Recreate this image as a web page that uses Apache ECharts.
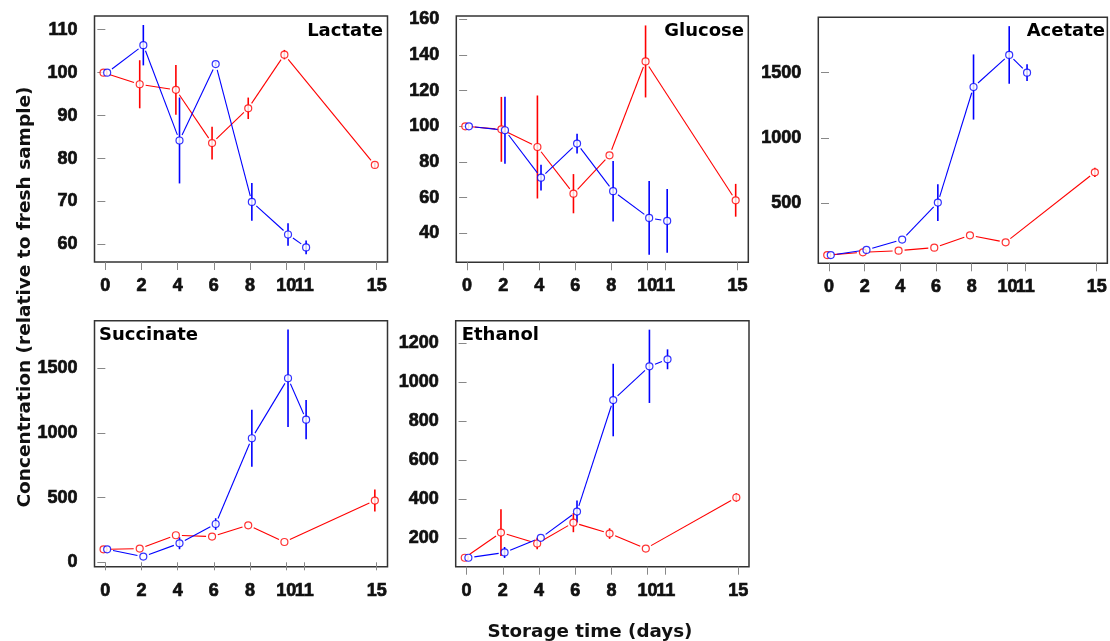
<!DOCTYPE html>
<html>
<head>
<meta charset="utf-8">
<script src="https://cdn.jsdelivr.net/npm/echarts@6/dist/echarts.min.js"></script>
<style>
html,body{margin:0;padding:0;background:#fff;}
#chart{width:1110px;height:641px;}
</style>
</head>
<body>
<div id="chart"></div>
<script>
// ---------- data ----------
const redDays  = [0, 2, 4, 6, 8, 10, 15];
const blueDays = [0, 2, 4, 6, 8, 10, 11];
const xTickValues = [0, 2, 4, 6, 8, 10, 11, 15];

const lactateRed     = [100, 97.3, 96.0, 83.6, 91.7, 104.2, 78.5];
const lactateRedErr  = [0, 5.6, 5.8, 3.8, 2.5, 1.1, 0.6];
const lactateBlue    = [100, 106.4, 84.2, 102.0, 69.9, 62.3, 59.3];
const lactateBlueErr = [0, 4.7, 10.0, 0.5, 4.4, 2.6, 1.6];
const lactateTicks   = [60, 70, 80, 90, 100, 110];

const glucoseRed     = [100, 98.3, 88.4, 62.2, 83.7, 136.4, 58.5];
const glucoseRedErr  = [0, 18.2, 28.9, 11.0, 0.5, 20.2, 9.2];
const glucoseBlue    = [100, 97.8, 71.2, 90.3, 63.6, 48.6, 46.9];
const glucoseBlueErr = [0, 18.8, 7.2, 5.6, 17.0, 20.7, 17.9];
const glucoseTicks   = [40, 60, 80, 100, 120, 140, 160];

const acetateRed     = [100, 121, 134, 157, 252, 198, 735];
const acetateRedErr  = [0, 0, 0, 0, 0, 0, 35];
const acetateBlue    = [100, 140, 219, 503, 1390, 1636, 1500];
const acetateBlueErr = [0, 0, 0, 141, 250, 221, 64];
const acetateTicks   = [500, 1000, 1500];

const succinateRed     = [100, 106, 209, 199, 286, 157, 477];
const succinateRedErr  = [0, 0, 0, 0, 0, 0, 85];
const succinateBlue    = [100, 44, 147, 296, 959, 1423, 1103];
const succinateBlueErr = [0, 0, 46, 45, 220, 376, 152];
const succinateTicks   = [0, 500, 1000, 1500];

const ethanolRed     = [100, 229, 173, 280, 224, 147, 409];
const ethanolRedErr  = [0, 120, 30, 49, 27, 0, 22];
const ethanolBlue    = [100, 127, 202, 337, 909, 1082, 1118];
const ethanolBlueErr = [0, 28, 0, 56, 186, 188, 51];
const ethanolTicks   = [200, 400, 600, 800, 1000, 1200];

const yLabel = 'Concentration (relative to fresh sample)';
const xLabel = 'Storage time (days)';

// ---------- layout ----------
const RED = '#ff0000', BLUE = '#0000ff';
const OFFSET = 0.1;
const panels = [
  {name:'Lactate',   red:lactateRed,   redErr:lactateRedErr,   blue:lactateBlue,   blueErr:lactateBlueErr,   ticks:lactateTicks,   yMin:55.9, yMax:113.2,
   grid:{left:94.5, top:16, width:293, height:246}, title:{x:383, y:31, align:'right'}},
  {name:'Glucose',   red:glucoseRed,   redErr:glucoseRedErr,   blue:glucoseBlue,   blueErr:glucoseBlueErr,   ticks:glucoseTicks,   yMin:23.7, yMax:161.9,
   grid:{left:456.3, top:16, width:292, height:246.3}, title:{x:744, y:31, align:'right'}},
  {name:'Acetate',   red:acetateRed,   redErr:acetateRedErr,   blue:acetateBlue,   blueErr:acetateBlueErr,   ticks:acetateTicks,   yMin:37, yMax:1925,
   grid:{left:818.3, top:17.3, width:293, height:246}, title:{x:1105, y:31, align:'right'}},
  {name:'Succinate', red:succinateRed, redErr:succinateRedErr, blue:succinateBlue, blueErr:succinateBlueErr, ticks:succinateTicks, yMin:-34, yMax:1868,
   grid:{left:94.5, top:320.7, width:293, height:246}, title:{x:99, y:335, align:'left'}},
  {name:'Ethanol',   red:ethanolRed,   redErr:ethanolRedErr,   blue:ethanolBlue,   blueErr:ethanolBlueErr,   ticks:ethanolTicks,   yMin:54, yMax:1316,
   grid:{left:455.7, top:320.7, width:293.3, height:246}, title:{x:461.7, y:335, align:'left'}}
];

const LABEL_STYLE = {fontFamily:'Liberation Sans', fontWeight:'bold', fontSize:18, color:'#111',
  textBorderColor:'#111', textBorderWidth:0.7};

function segRender(color){
  return function(params, api){
    const p1 = api.coord([api.value(0), api.value(1)]);
    const p2 = api.coord([api.value(2), api.value(3)]);
    const dx = p2[0]-p1[0], dy = p2[1]-p1[1];
    const L = Math.hypot(dx, dy), g = 6;
    if (L <= 2*g) return null;
    const ux = dx/L, uy = dy/L;
    return {type:'line', shape:{x1:p1[0]+ux*g, y1:p1[1]+uy*g, x2:p2[0]-ux*g, y2:p2[1]-uy*g},
            style:{stroke:color, lineWidth:1.1}};
  };
}
function errRender(color){
  return function(params, api){
    const p1 = api.coord([api.value(0), api.value(1)]);
    const p2 = api.coord([api.value(0), api.value(2)]);
    return {type:'line', shape:{x1:p1[0], y1:p1[1], x2:p2[0], y2:p2[1]},
            style:{stroke:color, lineWidth:1.6}};
  };
}

const grid = [], xAxis = [], yAxis = [], series = [], graphic = [];
panels.forEach((p, i) => {
  grid.push(Object.assign({show:true, borderColor:'#333', borderWidth:1.5, backgroundColor:'#fff', containLabel:false}, p.grid));
  xAxis.push({type:'value', gridIndex:i, min:-0.6, max:15.6,
    axisLine:{show:false}, splitLine:{show:false},
    axisTick:{show:true, customValues:xTickValues, length:8, lineStyle:{color:'#888', width:1}},
    axisLabel:Object.assign({show:true, customValues:xTickValues, margin:15, hideOverlap:false,
      formatter:v => String(v)}, LABEL_STYLE)});
  yAxis.push({type:'value', gridIndex:i, min:p.yMin, max:p.yMax,
    axisLine:{show:false}, splitLine:{show:false},
    axisTick:{show:true, customValues:p.ticks, length:8, lineStyle:{color:'#888', width:1}},
    axisLabel:Object.assign({show:true, customValues:p.ticks, margin:17,
      formatter:v => String(v)}, LABEL_STYLE)});

  [[redDays, p.red, p.redErr, RED, -OFFSET], [blueDays, p.blue, p.blueErr, BLUE, OFFSET]].forEach(([days, vals, errs, color, off]) => {
    const xs = days.map(d => d + off);
    const segs = [];
    for (let k = 0; k < xs.length-1; k++) segs.push([xs[k], vals[k], xs[k+1], vals[k+1]]);
    series.push({type:'custom', xAxisIndex:i, yAxisIndex:i, renderItem:segRender(color), data:segs, silent:true});
    const bars = [];
    xs.forEach((x, k) => { if (errs[k] > 0) bars.push([x, vals[k]-errs[k], vals[k]+errs[k]]); });
    series.push({type:'custom', xAxisIndex:i, yAxisIndex:i, renderItem:errRender(color), data:bars, silent:true});
    series.push({type:'scatter', xAxisIndex:i, yAxisIndex:i, data:xs.map((x,k)=>[x, vals[k]]),
      symbol:'circle', symbolSize:7, itemStyle:{color:'#fff', borderColor:color, borderWidth:1.2}, silent:true});
  });

  graphic.push({type:'text', x:p.title.x, y:p.title.y, z:100,
    style:{text:p.name, x:0, y:0, align:p.title.align, verticalAlign:'middle',
      font:'bold 18px "DejaVu Sans", Verdana, sans-serif', fill:'#000'}});
});

graphic.push({type:'text', x:25, y:297, rotation:Math.PI/2, z:100,
  style:{text:yLabel, align:'center', verticalAlign:'middle', font:'bold 18.5px "DejaVu Sans", Verdana, sans-serif', fill:'#111'}});
graphic.push({type:'text', x:590, y:632, z:100,
  style:{text:xLabel, align:'center', verticalAlign:'middle', font:'bold 18.3px "DejaVu Sans", Verdana, sans-serif', fill:'#111'}});

const chart = echarts.init(document.getElementById('chart'), null, {renderer:'canvas'});
chart.setOption({animation:false, backgroundColor:'#fff', grid, xAxis, yAxis, series, graphic});
</script>
</body>
</html>
